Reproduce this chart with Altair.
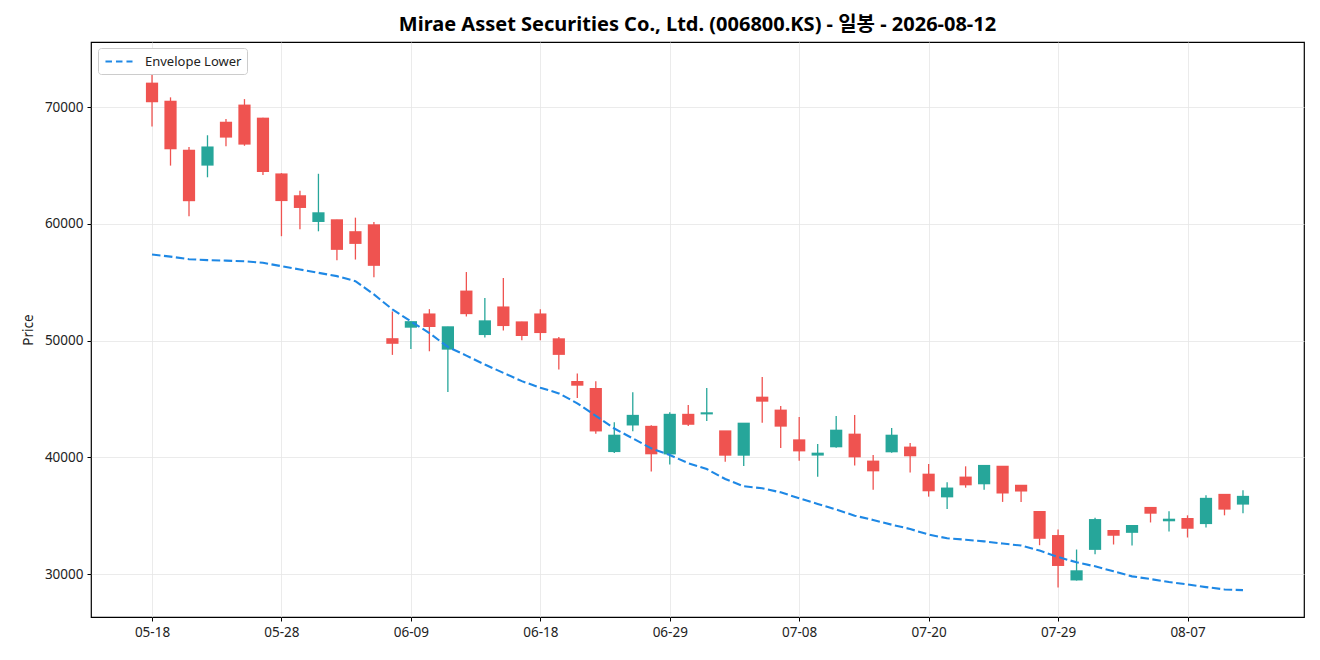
import json
import altair as alt
import pandas as pd

dates = ["05-18","05-19","05-20","05-21","05-22","05-26","05-27","05-28","05-29",
         "06-01","06-02","06-04","06-05","06-08","06-09","06-10","06-11","06-12","06-15",
         "06-16","06-17","06-18","06-19","06-22","06-23","06-24","06-25","06-26","06-29","06-30",
         "07-01","07-02","07-03","07-06","07-07","07-08","07-09","07-10","07-13","07-14","07-15",
         "07-16","07-20","07-21","07-22","07-23","07-24","07-27","07-28","07-29","07-30","07-31",
         "08-03","08-04","08-05","08-06","08-07","08-10","08-11","08-12"]

opens = [72050,70500,66300,65000,68700,70170,69050,64270,62400,60170,
         60340,59320,59910,50150,51110,52270,49230,54230,50480,52870,
         51590,52270,50140,46480,45880,40450,42730,42640,40250,43670,
         43680,42250,40140,45140,44030,41480,40150,40860,41970,39660,
         40430,40860,38540,36570,38290,37690,39220,37590,35340,33280,
         29450,32070,33710,33530,35690,34520,34740,34280,36810,35950]
highs = [73000,70850,66600,67600,69000,70700,69100,64360,62850,64300,
         60350,60540,60170,52500,51650,52700,51200,55880,53660,55370,
         51620,52700,50310,47190,46510,43010,45570,42760,43870,44490,
         45940,42260,42950,46880,44400,43450,41140,43540,43630,40200,
         42510,41230,39430,37860,39230,39300,39250,37610,35400,33820,
         32100,34830,33740,34170,35720,35370,35030,36750,36830,37180]
lows = [68350,65000,60650,64000,66650,66700,64200,58950,59550,59370,
        56900,56950,55440,48780,49290,49090,45600,52070,50280,50880,
        50030,50030,47530,45090,42020,40370,42240,38780,39380,42690,
        43110,39630,39260,42970,40800,39710,38340,40830,39290,37230,
        40400,38690,36630,35580,37400,37230,36180,36180,32470,28850,
        29440,31690,32530,32440,34420,33650,33130,33990,35030,35200]
closes = [70430,66400,61950,66580,67400,66800,64450,61960,61370,60940,
          57780,58290,56410,49730,51610,51170,51170,52270,51680,51250,
          50400,50650,48780,46140,42220,41880,43580,40260,43670,42790,
          43800,40140,42910,44770,42630,40510,40340,42310,40000,38800,
          41880,40090,37090,37350,37600,39290,36900,37070,33020,30690,
          30260,34650,33280,34140,35170,34680,33880,36470,35520,36640]
env_lower = [57380,57200,56980,56900,56860,56800,56670,56380,56100,55810,
             55530,55100,53960,52680,51650,50650,49460,48720,47950,47240,
             46530,45970,45480,44630,43550,42470,41620,40770,40200,39500,
             39000,38140,37520,37350,37000,36490,36000,35520,35000,34630,
             34230,33860,33380,33060,32940,32800,32610,32440,32010,31460,
             31000,30660,30230,29800,29570,29310,29110,28880,28680,28620]

UP = "#26a69a"
DOWN = "#ef5350"
FONT = "Noto Sans, Noto Sans CJK KR"

df = pd.DataFrame({
    "idx": list(range(len(dates))),
    "date": dates,
    "open": opens, "high": highs, "low": lows, "close": closes,
    "env": env_lower,
})
df["series"] = "Envelope Lower"

xscale = alt.Scale(domain=[-3.3, 62.3], nice=False, zero=False)
yscale = alt.Scale(domain=[26317, 75593], nice=False, zero=False)

label_expr = json.dumps(dates) + "[datum.value]"

xaxis = alt.Axis(values=list(range(0, 60, 7)), labelExpr=label_expr, title=None,
                 grid=True, gridColor="#e6e6e6", gridWidth=0.8,
                 tickColor="#000", tickSize=4, labelFontSize=13.5, labelColor="#222",
                 labelFont=FONT, labelPadding=4, domain=False)
yaxis = alt.Axis(values=[30000, 40000, 50000, 60000, 70000], title="Price", format="d",
                 grid=True, gridColor="#e6e6e6", gridWidth=0.8,
                 tickColor="#000", tickSize=4, labelFontSize=13.5, labelColor="#222",
                 labelFont=FONT, titleFont=FONT,
                 titleFontSize=13.5, titleFontWeight="normal", titleColor="#222",
                 titlePadding=9, labelPadding=4, domain=False)

color_cond = alt.condition("datum.close >= datum.open", alt.value(UP), alt.value(DOWN))

base = alt.Chart(df)

wicks = base.mark_rule(strokeWidth=1.3).encode(
    x=alt.X("idx:Q", scale=xscale, axis=xaxis),
    y=alt.Y("low:Q", scale=yscale, axis=yaxis),
    y2="high:Q",
    color=color_cond,
)

bodies = base.transform_calculate(
    x0="datum.idx - 0.33", x1="datum.idx + 0.33",
    b0="min(datum.open, datum.close)", b1="max(datum.open, datum.close) + 60",
).mark_bar(opacity=1).encode(
    x=alt.X("x0:Q", scale=xscale),
    x2="x1:Q",
    y=alt.Y("b0:Q", scale=yscale),
    y2="b1:Q",
    color=color_cond,
)

line = base.mark_line(strokeWidth=2.1, strokeDash=[8.5, 3.5]).encode(
    x=alt.X("idx:Q", scale=xscale),
    y=alt.Y("env:Q", scale=yscale),
    stroke=alt.Stroke("series:N", scale=alt.Scale(domain=["Envelope Lower"], range=["#1e88e5"]),
                      legend=alt.Legend(title=None, orient="none", legendX=7, legendY=6,
                                        symbolType="M-0.86,0H3.0", symbolSize=196,
                                        symbolStrokeWidth=2.1, symbolDash=[6.5, 4],
                                        labelFontSize=13, labelColor="#222", labelFont=FONT,
                                        labelOffset=25,
                                        strokeColor="#cccccc", fillColor="white",
                                        padding=5, cornerRadius=3)),
)

chart = alt.layer(wicks, bodies, line).properties(
    width=1213, height=575,
    background="white",
    title=alt.TitleParams("Mirae Asset Securities Co., Ltd. (006800.KS) - 일봉 - 2026-08-12",
                          fontSize=20, fontWeight="bold", font=FONT, color="#000", offset=7),
    padding={"left": 83, "top": 34, "right": 8, "bottom": 35},
    autosize=alt.AutoSizeParams(type="none"),
).configure_view(stroke="#000", strokeWidth=1.2)

chart.save("out.html", embed_options={"renderer": "svg", "actions": False})
